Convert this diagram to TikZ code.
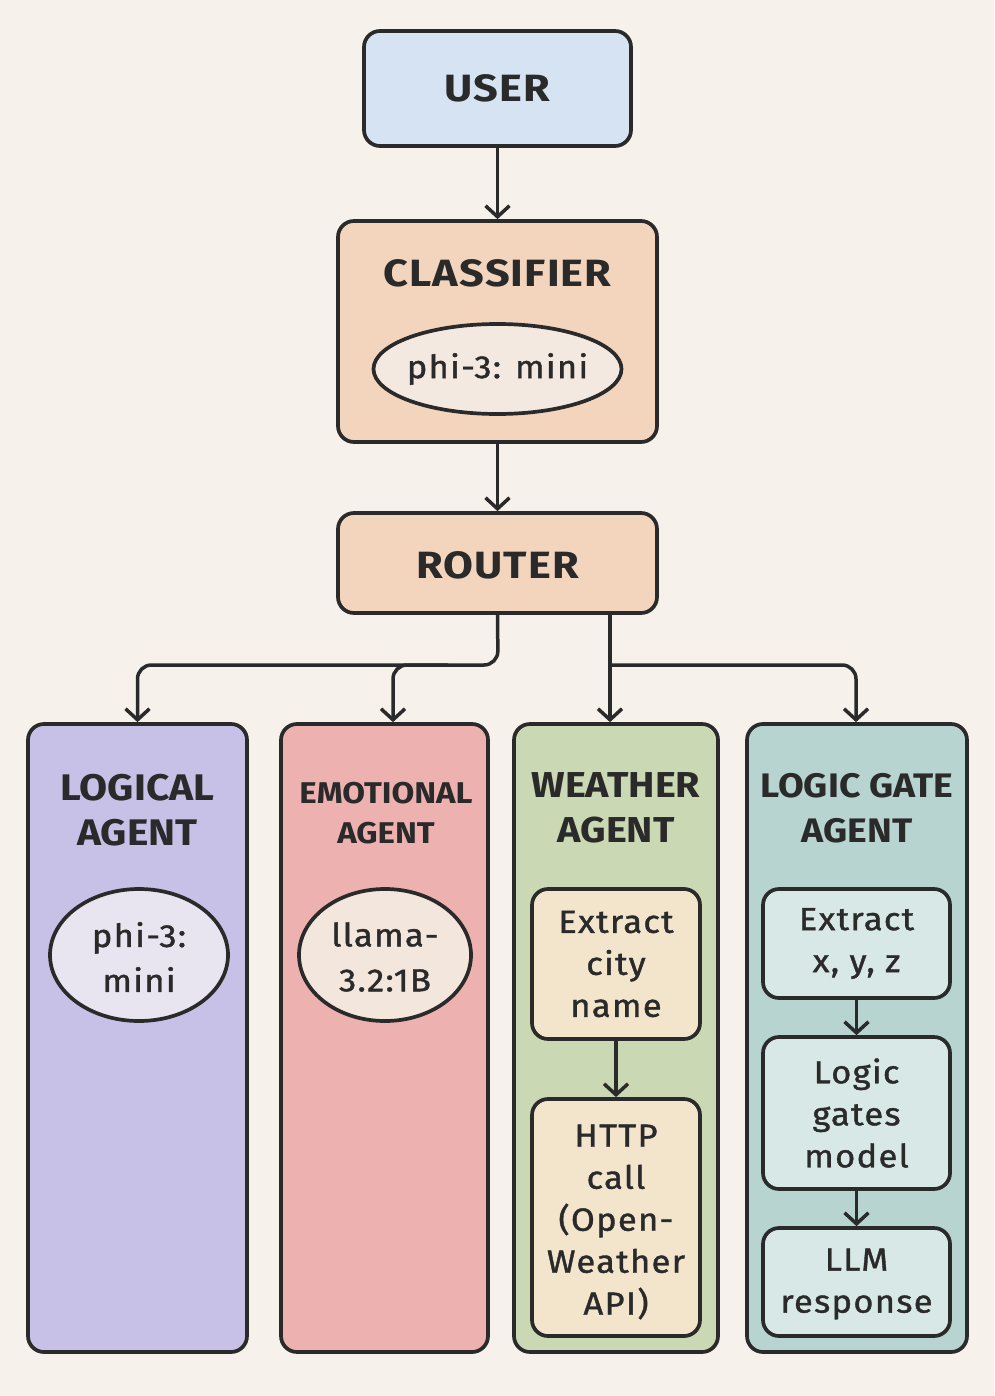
\documentclass[tikz,border=0pt]{standalone}
\usepackage{fontspec}
\setmainfont{Fira Sans}
\newfontfamily\titlefont[FakeStretch=1.14, LetterSpace=3]{Fira Sans}
\newfontfamily\agentfont[FakeStretch=1.1]{Fira Sans}
\newfontfamily\bodyfont[FakeStretch=1.08, LetterSpace=4, FakeBold=1.2]{Fira Sans}
\usetikzlibrary{arrows.meta,shapes.geometric}
\definecolor{bgc}{HTML}{F6F2EB}
\definecolor{ink}{HTML}{2A2A2A}
\definecolor{userc}{HTML}{D5E3F3}
\definecolor{peach}{HTML}{F3D5BE}
\definecolor{peachin}{HTML}{F4E9E1}
\definecolor{lav}{HTML}{C8C1E7}
\definecolor{lavin}{HTML}{E9E5F0}
\definecolor{rose}{HTML}{EDB2AF}
\definecolor{rosein}{HTML}{F3E6DC}
\definecolor{sage}{HTML}{CBD8B4}
\definecolor{sagein}{HTML}{F3E4CC}
\definecolor{teal}{HTML}{B7D4D1}
\definecolor{tealin}{HTML}{D8E8E6}
\begin{document}
\begin{tikzpicture}[x=1pt,y=-1pt,
  box/.style={draw=ink, line width=3.7pt, rounded corners=16pt, inner sep=0pt},
  oval/.style={draw=ink, line width=3.7pt, ellipse, inner sep=0pt},
  title/.style={font=\titlefont\bfseries\fontsize{38}{45}\selectfont, align=center, text=ink},
  atitle/.style={font=\agentfont\bfseries\fontsize{36}{45}\selectfont, align=center, text=ink},
  body/.style={font=\bodyfont\fontsize{32}{42}\selectfont, align=center, text=ink},
  conn/.style={draw=ink, line width=3.5pt, rounded corners=14pt,
     -{Straight Barb[length=11pt,width=24pt,line width=3.5pt]}},
]
\fill[bgc] (0,0) rectangle (994,1396);
\useasboundingbox (0,0) rectangle (994,1396);

% top chain
\node[box, fill=userc, minimum width=267pt, minimum height=115pt] (user) at (497.5,88.5) {};
\node[title] (usert) at (497.5,88.5) {USER};

\node[box, fill=peach, minimum width=319pt, minimum height=221pt] (clf) at (497.5,331.5) {};
\node[title] (clft) at (497.5,273) {CLASSIFIER};
\node[oval, fill=peachin, minimum width=248pt, minimum height=90pt] (clfm) at (497.5,369) {};
\node[body] (clfmt) at (497.5,369) {phi-3: mini};

\node[box, fill=peach, minimum width=319pt, minimum height=100pt] (router) at (497.5,563) {};
\node[title] (routert) at (497.5,565) {ROUTER};

\draw[conn] (user.south) -- (clf.north);
\draw[conn] (clf.south) -- (router.north);

% agents
\node[box, fill=lav, minimum width=219pt, minimum height=628pt] (logical) at (137.5,1038) {};
\node[atitle, font=\agentfont\bfseries\fontsize{37}{45}\selectfont] (logicalt) at (137.5,810) {LOGICAL\\AGENT};
\node[oval, fill=lavin, minimum width=178pt, minimum height=132pt] (logm) at (139,955) {};
\node[body, font=\bodyfont\fontsize{32}{45}\selectfont] (logmt) at (139,957) {phi-3:\\mini};

\node[box, fill=rose, minimum width=207pt, minimum height=628pt] (emo) at (384.5,1038) {};
\node[atitle, font=\agentfont\bfseries\fontsize{30}{40}\selectfont] (emot) at (386,813) {EMOTIONAL\\AGENT};
\node[oval, fill=rosein, minimum width=172pt, minimum height=132pt] (emom) at (385,955) {};
\node[body, font=\bodyfont\fontsize{32}{45}\selectfont] (emomt) at (385,957) {llama-\\3.2:1B};

\node[box, fill=sage, minimum width=204pt, minimum height=628pt] (weather) at (616,1038) {};
\node[atitle] (weathert) at (616,808) {WEATHER\\AGENT};
\node[box, fill=sagein, minimum width=168pt, minimum height=150pt] (w1) at (616,964) {};
\node[body] (w1t) at (616,964) {Extract\\city\\name};
\node[box, fill=sagein, minimum width=168pt, minimum height=237pt] (w2) at (616,1217.5) {};
\node[body] (w2t) at (616,1222) {HTTP\\call\\(Open-\\Weather\\API)};
\draw[conn] (w1.south) -- (w2.north);

\node[box, fill=teal, minimum width=220pt, minimum height=628pt] (gate) at (857,1038) {};
\node[atitle, font=\agentfont\bfseries\fontsize{34}{45}\selectfont] (gatet) at (857,808) {LOGIC GATE\\AGENT};
\node[box, fill=tealin, minimum width=187pt, minimum height=109pt] (g1) at (856.5,943.5) {};
\node[body] (g1t) at (856.5,943.5) {Extract\\x, y, z};
\node[box, fill=tealin, minimum width=187pt, minimum height=152pt] (g2) at (856.5,1113) {};
\node[body] (g2t) at (856.5,1113) {Logic\\gates\\model};
\node[box, fill=tealin, minimum width=187pt, minimum height=108pt] (g3) at (856.5,1282) {};
\node[body] (g3t) at (856.5,1284) {LLM\\response};
\draw[conn] (g1.south) -- (g2.north);
\draw[conn] (g2.south) -- (g3.north);

% router fan-out
\coordinate (split1) at (498,665);
\coordinate (split2) at (610,665);
\draw[conn] (router.south) -- (split1) -| (logical.north);
\draw[conn] ([xshift=-50pt]split1) -| ([xshift=8.5pt]emo.north);
\draw[conn] ([xshift=-6pt]weather.north |- router.south) -- ([xshift=-6pt]weather.north);
\draw[conn] (split2) -| ([xshift=-1pt]gate.north);
\end{tikzpicture}
\end{document}
